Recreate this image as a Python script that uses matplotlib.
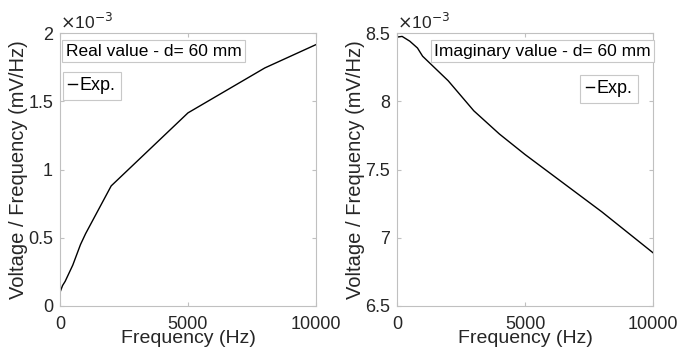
import matplotlib
matplotlib.use("Agg")
import matplotlib.pyplot as plt
from matplotlib.lines import Line2D

plt.rcParams['font.family'] = ['Liberation Sans', 'DejaVu Sans']

freq_real = [0, 100, 200, 500, 800, 1000, 2000, 5000, 8000, 10000]
real_vals = [0.10, 0.15, 0.18, 0.30, 0.45, 0.53, 0.88, 1.415, 1.744, 1.915]  # x1e-3

freq_imag = [0, 200, 500, 800, 1000, 2000, 3000, 4000, 5000, 8000, 10000]
imag_vals = [8.47, 8.475, 8.44, 8.39, 8.33, 8.15, 7.93, 7.76, 7.61, 7.19, 6.89]  # x1e-3

real_yticks = [0, 0.5, 1, 1.5, 2]
real_yticklabels = ['0', '0.5', '1', '1.5', '2']
imag_yticks = [6.5, 7, 7.5, 8, 8.5]
imag_yticklabels = ['6.5', '7', '7.5', '8', '8.5']
xticks = [0, 5000, 10000]
xticklabels = ['0', '5000', '10000']

W, H = 694, 350
fig = plt.figure(figsize=(W / 100, H / 100), dpi=100)

txt = '#262626'
spine = '#c0c0c0'
tfs = 13

def make_axes(left_px, x, y, yticks, yticklabels, ylim):
    ax = fig.add_axes([left_px / W, 1 - 306 / H, 256 / W, 273 / H])
    ax.plot(x, y, color='black', lw=1.0)
    ax.set_xlim(0, 10000)
    ax.set_ylim(*ylim)
    ax.set_xticks(xticks)
    ax.set_xticklabels(xticklabels)
    ax.set_yticks(yticks)
    ax.set_yticklabels(yticklabels)
    for s in ax.spines.values():
        s.set_color(spine)
        s.set_linewidth(0.8)
    ax.tick_params(direction='in', length=3, color=spine, labelsize=tfs,
                   labelcolor=txt, top=True, right=True)
    ax.tick_params(axis='x', pad=7.5)
    ax.tick_params(axis='y', pad=5)
    ax.set_xlabel('Frequency (Hz)', fontsize=14, color=txt, labelpad=-2.5)
    ax.set_ylabel('Voltage / Frequency (mV/Hz)', fontsize=14.5, color=txt, labelpad=0)
    ax.text(0.0, 1.005, r'$\times$10$^{-3}$', transform=ax.transAxes, fontsize=12.5,
            color=txt, ha='left', va='bottom')
    return ax

h = [Line2D([0], [0], color='black', lw=1.0)]

ax1 = make_axes(60, freq_real, real_vals, real_yticks, real_yticklabels, (0, 2))
ax1.text(0.022, 0.934, 'Real value - d= 60 mm', transform=ax1.transAxes, fontsize=12.5,
         color='black', ha='left', va='center',
         bbox=dict(boxstyle='square,pad=0.2', fc='white', ec='#c8c8c8', lw=0.8))
leg1 = ax1.legend(h, ['Exp.'], loc='upper left', bbox_to_anchor=(0.012, 0.857),
                  fontsize=13, handlelength=0.45, handletextpad=0.15,
                  fancybox=False, edgecolor='#c8c8c8', borderpad=0.3,
                  borderaxespad=0, framealpha=1)
leg1.get_frame().set_linewidth(0.8)

ax2 = make_axes(397, freq_imag, imag_vals, imag_yticks, imag_yticklabels, (6.5, 8.5))
ax2.text(0.992, 0.934, 'Imaginary value - d= 60 mm', transform=ax2.transAxes, fontsize=12.5,
         color='black', ha='right', va='center',
         bbox=dict(boxstyle='square,pad=0.2', fc='white', ec='#c8c8c8', lw=0.8))
leg2 = ax2.legend(h, ['Exp.'], loc='upper right', bbox_to_anchor=(0.941, 0.846),
                  fontsize=13, handlelength=0.45, handletextpad=0.15,
                  fancybox=False, edgecolor='#c8c8c8', borderpad=0.3,
                  borderaxespad=0, framealpha=1)
leg2.get_frame().set_linewidth(0.8)

fig.savefig('out.png', dpi=100)
